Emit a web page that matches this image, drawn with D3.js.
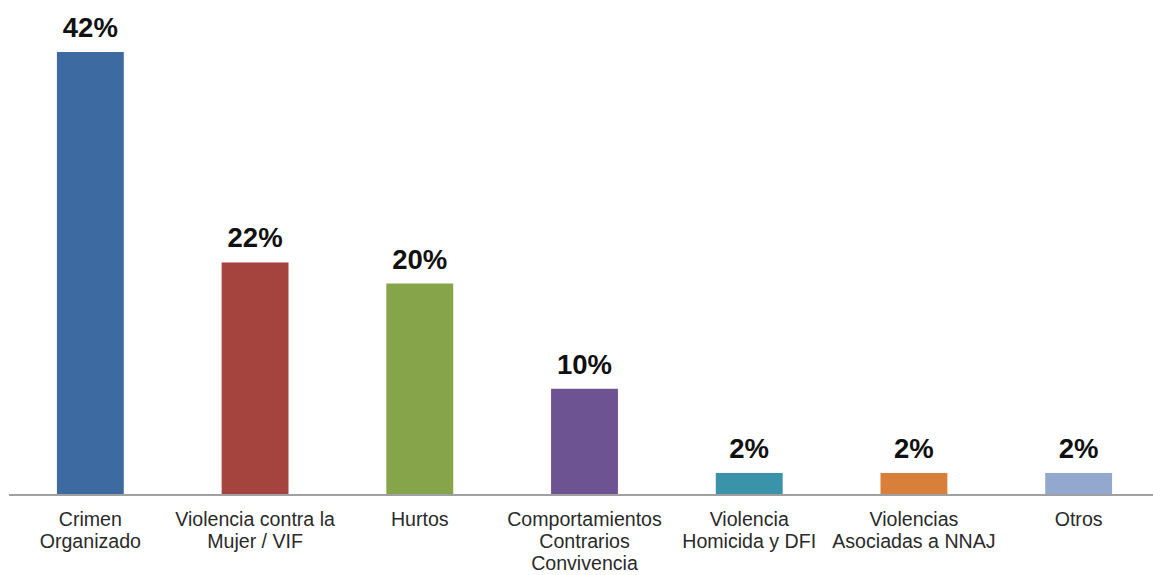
<!DOCTYPE html>
<html>
<head>
<meta charset="utf-8">
<script src="https://cdn.jsdelivr.net/npm/d3@7"></script>
<style>
  body { margin: 0; background: #fff; }
  svg { display: block; }
</style>
</head>
<body>
<div id="container"></div>
<script>
// DATA
const categories = [
  ["Crimen", "Organizado"],
  ["Violencia contra la", "Mujer / VIF"],
  ["Hurtos"],
  ["Comportamientos", "Contrarios", "Convivencia"],
  ["Violencia", "Homicida y DFI"],
  ["Violencias", "Asociadas a NNAJ"],
  ["Otros"]
];
const values = [42, 22, 20, 10, 2, 2, 2];
const colors = ["#3e6aa2", "#a5443f", "#86a44a", "#6d5391", "#3b93a9", "#d8803a", "#93a8cf"];

const width = 1153;
const height = 575;
const baseY = 494;

const svg = d3.select("#container")
  .append("svg")
  .attr("width", width)
  .attr("height", height);

// SCALES
const xScale = d3.scaleBand()
  .domain(d3.range(values.length))
  .range([8, 1161])
  .paddingInner(0.594)
  .paddingOuter(0.297);

const yScale = d3.scaleLinear()
  .domain([0, 42])
  .range([baseY, 52]);

// bars
svg.selectAll("rect.bar")
  .data(values)
  .enter()
  .append("rect")
  .attr("class", "bar")
  .attr("x", (d, i) => xScale(i))
  .attr("y", d => yScale(d))
  .attr("width", xScale.bandwidth())
  .attr("height", d => baseY - yScale(d))
  .attr("fill", (d, i) => colors[i]);

// baseline axis
svg.append("line")
  .attr("x1", 9)
  .attr("x2", width)
  .attr("y1", baseY + 1)
  .attr("y2", baseY + 1)
  .attr("stroke", "#a0a0a0")
  .attr("stroke-width", 2);

// value labels
svg.selectAll("text.value")
  .data(values)
  .enter()
  .append("text")
  .attr("class", "value")
  .attr("x", (d, i) => xScale(i) + xScale.bandwidth() / 2)
  .attr("y", d => yScale(d) - 15)
  .attr("text-anchor", "middle")
  .style("font-family", "'Liberation Sans', Arial, sans-serif")
  .style("font-weight", "bold")
  .style("font-size", "27.5px")
  .style("fill", "#111")
  .text(d => d + "%");

// category labels
const catLabels = svg.selectAll("text.cat")
  .data(categories)
  .enter()
  .append("text")
  .attr("class", "cat")
  .attr("x", (d, i) => xScale(i) + xScale.bandwidth() / 2)
  .attr("y", 526)
  .attr("text-anchor", "middle")
  .style("font-family", "'Liberation Sans', Arial, sans-serif")
  .style("font-size", "19.6px")
  .style("fill", "#2a2a2a");

catLabels.each(function(lines, i) {
  const x = xScale(i) + xScale.bandwidth() / 2;
  d3.select(this).selectAll("tspan")
    .data(lines)
    .enter()
    .append("tspan")
    .attr("x", x)
    .attr("dy", (d, j) => j === 0 ? 0 : 22)
    .text(d => d);
});
</script>
</body>
</html>
